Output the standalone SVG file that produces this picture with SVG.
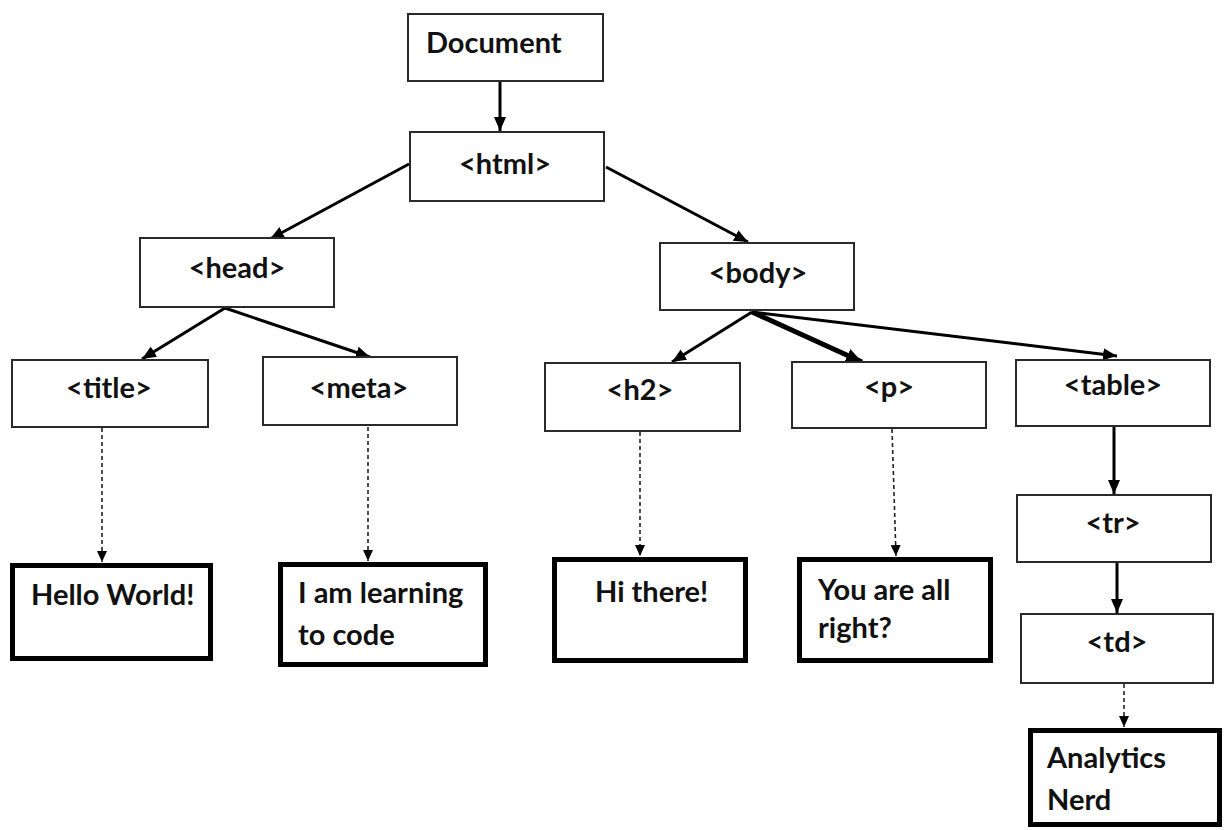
<svg xmlns="http://www.w3.org/2000/svg" width="1225" height="830" viewBox="0 0 1225 830">
  <style>
    .box { fill: #ffffff; stroke: #2a2a2a; stroke-width: 2; }
    .leaf { fill: #ffffff; stroke: #000000; stroke-width: 5; }
    .lbl { font-family: Lato, "Liberation Sans", sans-serif; font-weight: bold; font-size: 29px; fill: #111111; }
    .mid { text-anchor: middle; }
    .edge { stroke: #000000; stroke-width: 3; fill: none; marker-end: url(#head); }
    .edge-bold { stroke: #000000; stroke-width: 5; fill: none; marker-end: url(#headBig); }
    .text-edge { stroke: #222222; stroke-width: 1.6; stroke-dasharray: 4 3; fill: none; marker-end: url(#headSmall); }
  </style>
  <defs>
    <marker id="head" markerUnits="userSpaceOnUse" markerWidth="16" markerHeight="14" refX="14" refY="7" orient="auto">
      <path d="M0,1 L14,7 L0,13 Z" fill="#000000"/>
    </marker>
    <marker id="headBig" markerUnits="userSpaceOnUse" markerWidth="18" markerHeight="16" refX="16" refY="8" orient="auto">
      <path d="M0,1 L16,8 L0,15 Z" fill="#000000"/>
    </marker>
    <marker id="headSmall" markerUnits="userSpaceOnUse" markerWidth="12" markerHeight="12" refX="11" refY="6" orient="auto">
      <path d="M0,1 L11,6 L0,11 Z" fill="#000000"/>
    </marker>
  </defs>
  <rect width="1225" height="830" fill="#ffffff"/>

  <!-- parent/child links and text links -->
  <g id="connectors">
    <line class="edge" x1="500" y1="82" x2="500" y2="131"/>
    <line class="edge" x1="409" y1="164" x2="270" y2="239"/>
    <line class="edge" x1="606" y1="167" x2="748" y2="242"/>
    <line class="edge" x1="225" y1="308" x2="142" y2="359"/>
    <line class="edge" x1="225" y1="308" x2="370" y2="357"/>
    <line class="edge" x1="752" y1="312" x2="672" y2="362"/>
    <line class="edge-bold" x1="752" y1="312" x2="862" y2="362"/>
    <line class="edge" x1="752" y1="312" x2="1117" y2="356"/>
    <line class="edge" x1="1114" y1="427" x2="1114" y2="494"/>
    <line class="edge" x1="1117" y1="563" x2="1117" y2="613"/>
    <line class="text-edge" x1="102" y1="428" x2="102" y2="562"/>
    <line class="text-edge" x1="368" y1="427" x2="368" y2="561"/>
    <line class="text-edge" x1="640" y1="432" x2="640" y2="556"/>
    <line class="text-edge" x1="892" y1="429" x2="896" y2="556"/>
    <line class="text-edge" x1="1124" y1="684" x2="1124" y2="727"/>
  </g>

  <g id="document">
    <rect class="box" x="408" y="14" width="195" height="67"/>
    <text class="lbl" x="426" y="53">Document</text>
  </g>
  <g id="html">
    <rect class="box" x="410" y="132" width="194" height="69"/>
    <text class="lbl mid" x="505" y="174">&lt;html&gt;</text>
  </g>
  <g id="head-node">
    <rect class="box" x="140" y="238" width="194" height="69"/>
    <text class="lbl mid" x="237" y="278">&lt;head&gt;</text>
  </g>
  <g id="body">
    <rect class="box" x="660" y="243" width="194" height="67"/>
    <text class="lbl mid" x="758" y="283">&lt;body&gt;</text>
  </g>
  <g id="title">
    <rect class="box" x="12" y="360" width="196" height="67"/>
    <text class="lbl mid" x="109" y="398">&lt;title&gt;</text>
  </g>
  <g id="meta">
    <rect class="box" x="263" y="357" width="194" height="68"/>
    <text class="lbl mid" x="359" y="398">&lt;meta&gt;</text>
  </g>
  <g id="h2">
    <rect class="box" x="545" y="363" width="195" height="68"/>
    <text class="lbl mid" x="640" y="400">&lt;h2&gt;</text>
  </g>
  <g id="p">
    <rect class="box" x="792" y="362" width="194" height="66"/>
    <text class="lbl mid" x="889" y="397">&lt;p&gt;</text>
  </g>
  <g id="table">
    <rect class="box" x="1016" y="360" width="194" height="66"/>
    <text class="lbl mid" x="1113" y="395">&lt;table&gt;</text>
  </g>
  <g id="tr">
    <rect class="box" x="1017" y="495" width="194" height="67"/>
    <text class="lbl mid" x="1113" y="533">&lt;tr&gt;</text>
  </g>
  <g id="td">
    <rect class="box" x="1021" y="614" width="192" height="69"/>
    <text class="lbl mid" x="1117" y="652">&lt;td&gt;</text>
  </g>

  <g id="hello-world">
    <rect class="leaf" x="12.5" y="565.5" width="198" height="93"/>
    <text class="lbl" x="31" y="605">Hello World!</text>
  </g>
  <g id="learning">
    <rect class="leaf" x="280.5" y="564.5" width="205" height="100"/>
    <text class="lbl" x="298" y="603">I am learning</text>
    <text class="lbl" x="298" y="645">to code</text>
  </g>
  <g id="hi-there">
    <rect class="leaf" x="554.5" y="559.5" width="191" height="101"/>
    <text class="lbl" x="595" y="602">Hi there!</text>
  </g>
  <g id="all-right">
    <rect class="leaf" x="799.5" y="559.5" width="191" height="101"/>
    <text class="lbl" x="818" y="600">You are all</text>
    <text class="lbl" x="818" y="638">right?</text>
  </g>
  <g id="analytics">
    <rect class="leaf" x="1030.5" y="730.5" width="189" height="94"/>
    <text class="lbl" x="1047" y="768">Analytics</text>
    <text class="lbl" x="1047" y="810">Nerd</text>
  </g>
</svg>
